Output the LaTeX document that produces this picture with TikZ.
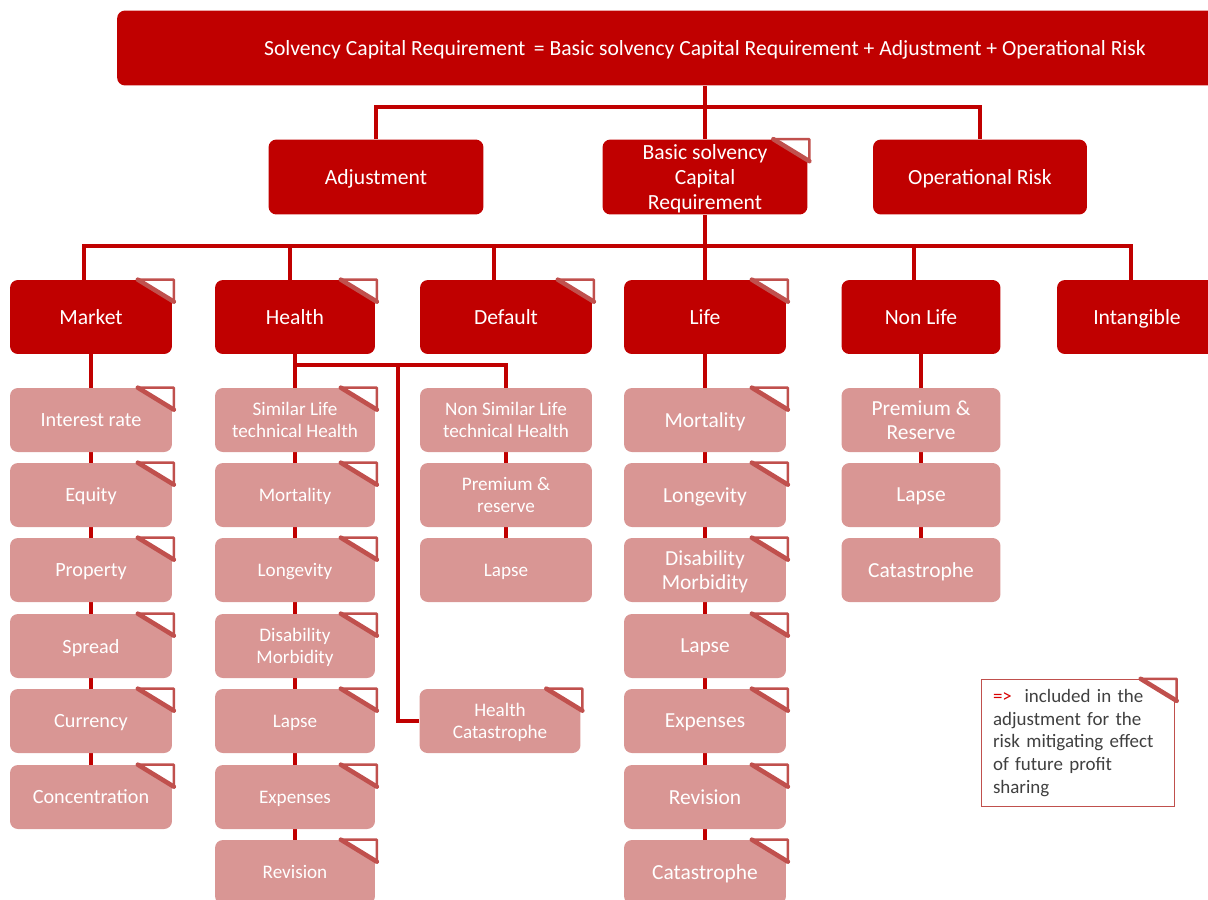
\documentclass[tikz,border=0pt]{standalone}
\usepackage{fontspec}
\setmainfont{Carlito}
\usepackage{tikz}
\usetikzlibrary{backgrounds}

\definecolor{boxred}{HTML}{C00000}
\definecolor{boxpink}{HTML}{D99694}
\definecolor{flagred}{HTML}{C0504D}
\definecolor{notegray}{HTML}{404040}

\newcommand{\notecorner}[1]{%
  \fill[white] ([xshift=0.03cm]#1.north east) -- ++(0,22) -- ++(-36,-22) -- cycle;
  \draw[flagred, line width=1.4pt, line join=round] ([xshift=0.03cm]#1.north east) -- ++(0,22) -- ++(-36,-22) -- cycle;
  \draw[flagred, line width=2.6pt, line cap=round] ([xshift=0.03cm]#1.north east) ++(0,22) -- ++(-36,-22);}

\begin{document}
\begin{tikzpicture}[x=0.02cm, y=-0.02cm,
  mainbox/.style={fill=boxred, text=white, rounded corners=4.5pt, inner sep=0pt, align=center, text depth=0pt, font=\fontsize{12.3}{14.2}\selectfont},
  subbox/.style={fill=boxpink, text=white, rounded corners=4.5pt, inner sep=0pt, align=center, text depth=0pt, minimum height=1.28cm},
  subsmall/.style={subbox, font=\fontsize{10.9}{12.6}\selectfont},
  submid/.style={subbox, font=\fontsize{11.5}{13.2}\selectfont},
  sublarge/.style={subbox, font=\fontsize{12.2}{14}\selectfont},
  link/.style={draw=boxred, line width=1.8pt}]
\useasboundingbox (0,0) rectangle (1208,900);

\node (top) at (705,48) [mainbox, minimum width=23.52cm, minimum height=1.5cm] {Solvency Capital Requirement\, = Basic solvency Capital Requirement + Adjustment + Operational Risk};

\node (adj) at (376,177) [mainbox, minimum width=4.3cm, minimum height=1.5cm] {Adjustment};
\node (bscr) at (705,177) [mainbox, minimum width=4.1cm, minimum height=1.5cm] {Basic solvency\\Capital\\Requirement};
\node (oprisk) at (980,177) [mainbox, minimum width=4.28cm, minimum height=1.5cm] {Operational Risk};

\node (market) at (91,317) [mainbox, minimum width=3.24cm, minimum height=1.48cm] {Market};
\node (health) at (295,317) [mainbox, minimum width=3.2cm, minimum height=1.48cm] {Health};
\node (default) at (506,317) [mainbox, minimum width=3.44cm, minimum height=1.48cm] {Default};
\node (life) at (705,317) [mainbox, minimum width=3.24cm, minimum height=1.48cm] {Life};
\node (nonlife) at (921,317) [mainbox, minimum width=3.18cm, minimum height=1.48cm] {Non Life};
\node (intang) at (1137,317) [mainbox, minimum width=3.2cm, minimum height=1.48cm] {Intangible};

\node (mint) at (91,420) [submid, minimum width=3.24cm] {Interest rate};
\node (meq) at (91,495) [submid, minimum width=3.24cm] {Equity};
\node (mprop) at (91,570) [submid, minimum width=3.24cm] {Property};
\node (mspread) at (91,646) [submid, minimum width=3.24cm] {Spread};
\node (mcur) at (91,721) [submid, minimum width=3.24cm] {Currency};
\node (mconc) at (91,797) [submid, minimum width=3.24cm] {Concentration};

\node (hsim) at (295,420) [subsmall, minimum width=3.2cm] {Similar Life\\technical Health};
\node (hmort) at (295,495) [subsmall, minimum width=3.2cm] {Mortality};
\node (hlong) at (295,570) [subsmall, minimum width=3.2cm] {Longevity};
\node (hdis) at (295,646) [subsmall, minimum width=3.2cm] {Disability\\Morbidity};
\node (hlapse) at (295,721) [subsmall, minimum width=3.2cm] {Lapse};
\node (hexp) at (295,797) [subsmall, minimum width=3.2cm] {Expenses};
\node (hrev) at (295,872) [subsmall, minimum width=3.2cm] {Revision};

\node (hnsim) at (506,420) [subsmall, minimum width=3.44cm] {Non Similar Life\\technical Health};
\node (hprem) at (506,495) [subsmall, minimum width=3.44cm] {Premium \&\\reserve};
\node (hnlapse) at (506,570) [subsmall, minimum width=3.44cm] {Lapse};
\node (hcat) at (500,721) [subsmall, minimum width=3.22cm] {Health\\Catastrophe};

\node (lmort) at (705,420) [sublarge, minimum width=3.24cm] {Mortality};
\node (llong) at (705,495) [sublarge, minimum width=3.24cm] {Longevity};
\node (ldis) at (705,570) [sublarge, minimum width=3.24cm] {Disability\\Morbidity};
\node (llapse) at (705,646) [sublarge, minimum width=3.24cm] {Lapse};
\node (lexp) at (705,721) [sublarge, minimum width=3.24cm] {Expenses};
\node (lrev) at (705,797) [sublarge, minimum width=3.24cm] {Revision};
\node (lcat) at (705,872) [sublarge, minimum width=3.24cm] {Catastrophe};

\node (nprem) at (921,420) [sublarge, minimum width=3.18cm] {Premium \&\\Reserve};
\node (nlapse) at (921,495) [sublarge, minimum width=3.18cm] {Lapse};
\node (ncat) at (921,570) [sublarge, minimum width=3.18cm] {Catastrophe};

\node (legend) at (1078,743) [draw=flagred, line width=0.8pt, fill=white, text=notegray, minimum width=3.86cm, minimum height=2.54cm, text width=3.4cm, align=left, inner sep=0pt, font=\fontsize{10.8}{13}\selectfont] {{\color{red!85!black}=>}\ \ included in the\\adjustment for the\\risk mitigating effect\\of future profit\\sharing};

\coordinate (l2bus) at (705,107);
\coordinate (l3bus) at (705,246);
\coordinate (hsplit) at (295,365);
\coordinate (hcbr) at (398,365);

\begin{scope}[on background layer]
\draw[link] (top.south) -- (bscr.north);
\draw[link] (adj.north) |- (l2bus) -| (oprisk.north);
\draw[link] (bscr.south) -- (life.north);
\draw[link] ([xshift=-0.14cm]market.north) |- (l3bus) -| ([xshift=-0.12cm]intang.north);
\draw[link] ([xshift=-0.1cm]health.north) -- ([xshift=-0.1cm]health.north |- l3bus);
\draw[link] ([xshift=-0.24cm]default.north) -- ([xshift=-0.24cm]default.north |- l3bus);
\draw[link] ([xshift=-0.14cm]nonlife.north) -- ([xshift=-0.14cm]nonlife.north |- l3bus);
\draw[link] (market.south) -- (mconc.north);
\draw[link] (health.south) -- (hrev.north);
\draw[link] (hsplit) -| (hnsim.north);
\draw[link] (hnsim.south) -- (hnlapse.north);
\draw[link] (hcbr) |- (hcat.west);
\draw[link] (life.south) -- (lcat.north);
\draw[link] (nonlife.south) -- (ncat.north);
\end{scope}

\notecorner{bscr} \notecorner{market} \notecorner{health} \notecorner{default} \notecorner{life}
\notecorner{mint} \notecorner{meq} \notecorner{mprop} \notecorner{mspread} \notecorner{mcur} \notecorner{mconc}
\notecorner{hsim} \notecorner{hmort} \notecorner{hlong} \notecorner{hdis} \notecorner{hlapse} \notecorner{hexp} \notecorner{hrev}
\notecorner{hcat}
\notecorner{lmort} \notecorner{llong} \notecorner{ldis} \notecorner{llapse} \notecorner{lexp} \notecorner{lrev} \notecorner{lcat}
\notecorner{legend}
\end{tikzpicture}
\end{document}
